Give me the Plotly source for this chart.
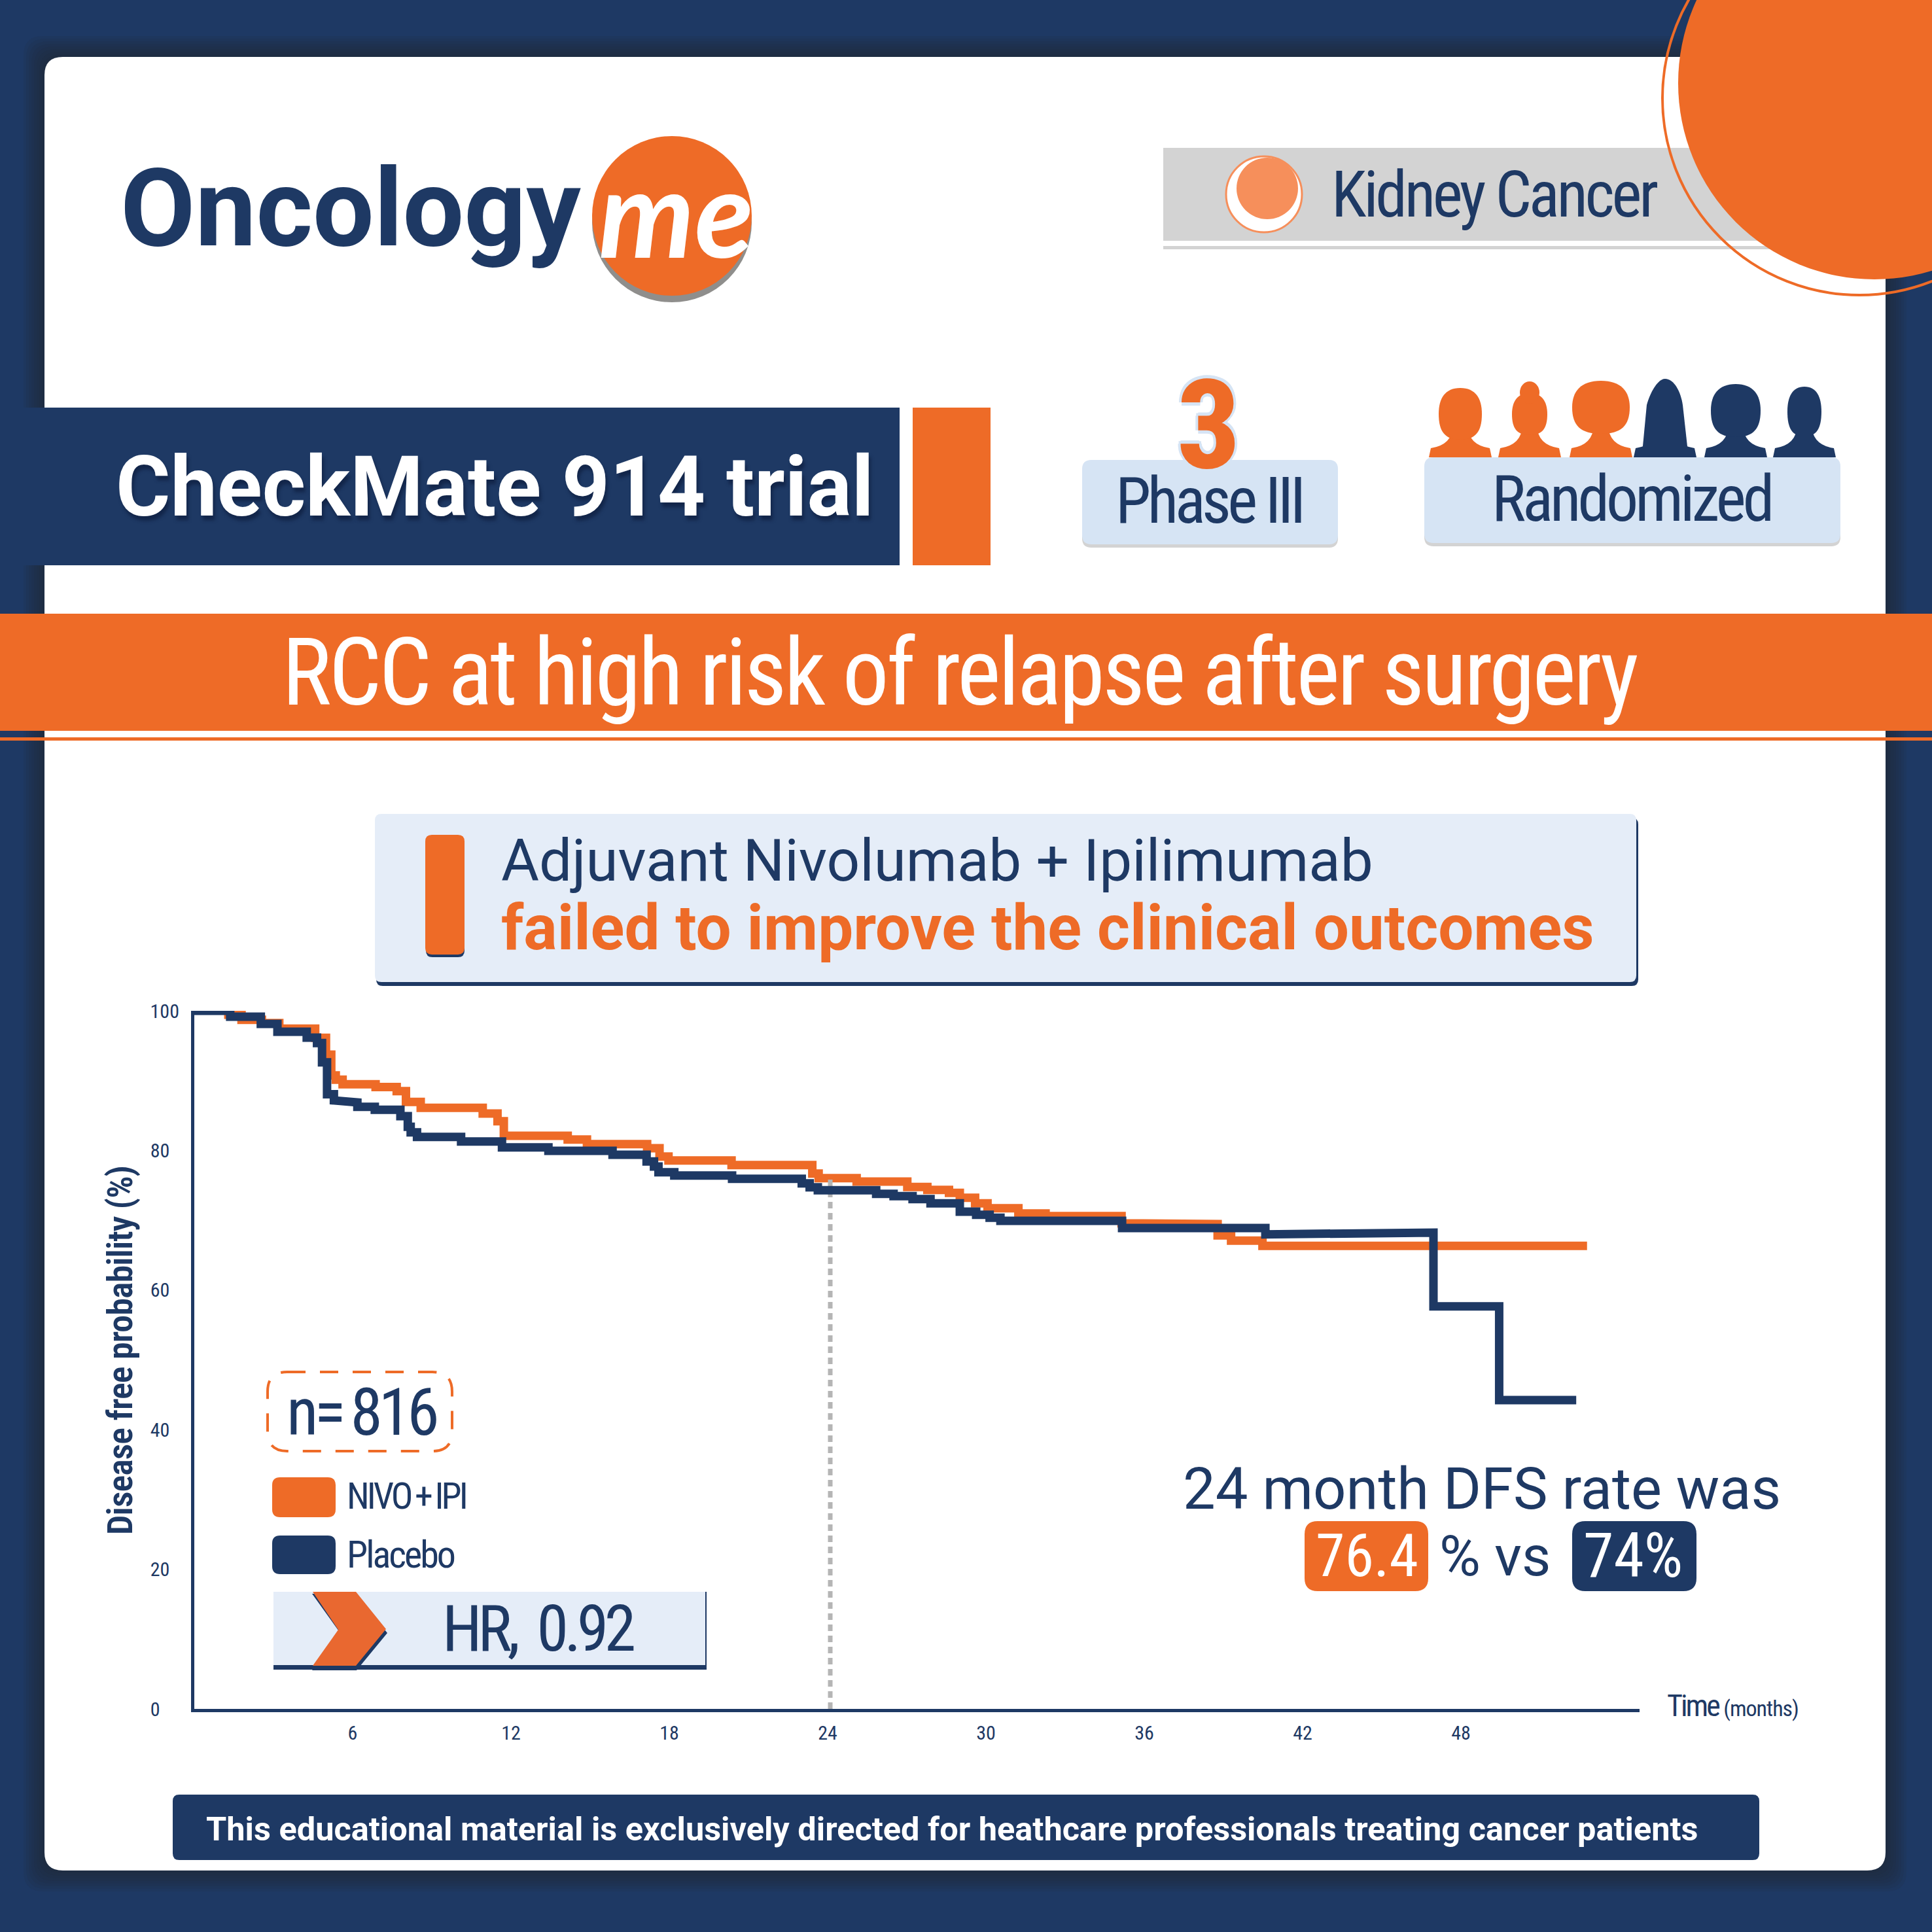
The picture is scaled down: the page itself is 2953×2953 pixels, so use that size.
import plotly.graph_objects as go

# kaplan meier steps (months where the level starts, level in %)
nivo_months = [0, 1.29, 1.79, 2.56, 3.22, 4.58, 4.99, 5.19, 5.36, 5.62, 6.87, 7.67, 8.02, 8.58, 10.93, 11.49,
               11.73, 14.15, 14.88, 17.16, 17.63, 17.97, 20.36, 23.42, 23.66, 25.1, 27.02, 27.78, 28.6, 29.01,
               29.59, 30.06, 31.23, 32.26, 35.14, 38.78, 39.29, 40.48, 52.78]
nivo_dfs = [100.28, 99.44, 98.72, 98.25, 97.44, 96.13, 93.72, 90.75, 90.13, 89.47, 89.09, 88.5, 86.94, 86.1,
            85.29, 84.19, 82.1, 81.57, 80.91, 80.32, 79.13, 78.57, 77.91, 76.69, 76.04, 75.54, 74.76, 74.35,
            73.92, 73.23, 72.42, 71.73, 70.98, 70.6, 69.57, 67.82, 67.07, 66.32, 66.32]
placebo_months = [0, 1.36, 2.52, 3.15, 4.26, 4.65, 4.84, 5.03, 5.29, 5.53, 6.18, 6.84, 7.81, 8.09, 8.2, 8.44,
                  10.11, 11.66, 13.42, 15.85, 17.14, 17.42, 17.59, 18.19, 20.38, 23.02, 23.32, 23.63, 25.84,
                  26.5, 27.22, 27.9, 29.01, 29.63, 30.14, 30.55, 35.16, 40.59, 46.96, 49.45, 52.37]
placebo_dfs = [100.0, 99.16, 98.13, 97.0, 96.16, 95.38, 92.63, 88.04, 87.16, 86.88, 86.25, 85.82, 84.91, 83.38,
               82.6, 81.94, 81.29, 80.44, 79.94, 79.38, 78.41, 77.69, 76.88, 76.41, 75.94, 75.29, 74.73, 74.29,
               73.79, 73.45, 73.04, 72.42, 71.23, 70.79, 70.35, 69.92, 68.88, 67.98, 57.67, 44.24, 44.24]
# the artwork has two runs that drift instead of staying flat: run start month -> level at run end
nivo_drift = {35.14: 69.45}
placebo_drift = {40.59: 68.23}

month_ticks = [6, 12, 18, 24, 30, 36, 42, 48]
dfs_ticks = [0, 20, 40, 60, 80, 100]
dfs_tick_labels = ['0\u2007\u2007', '20\u2007', '40\u2007', '60\u2007', '80\u2007', '100']
landmark_month = [24.1, 24.1]
landmark_dfs = [0, 76.4]

NAVY = '#1e3964'
ORANGE = '#ee6b27'
PALE = '#e5edf8'
BLUE = '#d6e4f4'
GREY = '#d3d3d3'
NARROW = 'Roboto Condensed, Open Sans Condensed, DejaVu Sans Condensed, Roboto'
DIN = 'Roboto'
W = 2953


def X(p):
    return p / W


def Y(p):
    return 1 - p / W


def expand(months, levels, drift):
    xs, ys = [], []
    for i in range(len(months) - 1):
        xs += [months[i], months[i + 1]]
        ys += [levels[i], drift.get(months[i], levels[i])]
    return xs, ys


def pt(x, y):
    return f'{X(x):.5f},{Y(y):.5f}'


def rr_path(x0, y0, x1, y1, r):
    return (f'M{pt(x0 + r, y0)} L{pt(x1 - r, y0)} Q{pt(x1, y0)} {pt(x1, y0 + r)} L{pt(x1, y1 - r)} '
            f'Q{pt(x1, y1)} {pt(x1 - r, y1)} L{pt(x0 + r, y1)} Q{pt(x0, y1)} {pt(x0, y1 - r)} '
            f'L{pt(x0, y0 + r)} Q{pt(x0, y0)} {pt(x0 + r, y0)} Z')


shapes = []


def box(x0, y0, x1, y1, fill, r=0, opacity=1, line=None, layer='below'):
    shapes.append(dict(type='path', xref='paper', yref='paper', path=rr_path(x0, y0, x1, y1, r),
                       fillcolor=fill, opacity=opacity, layer=layer,
                       line=line or dict(width=0)))


def circle(cx, cy, r, fill='rgba(0,0,0,0)', line=None, layer='below'):
    shapes.append(dict(type='circle', xref='paper', yref='paper', x0=X(cx - r), x1=X(cx + r), y0=Y(cy + r),
                       y1=Y(cy - r), fillcolor=fill, layer=layer, line=line or dict(width=0)))


def poly(points, fill):
    shapes.append(dict(type='path', xref='paper', yref='paper', layer='below', fillcolor=fill, line=dict(width=0),
                       path='M' + ' L'.join(pt(a, b) for a, b in points) + ' Z'))


def person(cx, top, bottom, hw, fill, bun=False, long_hair=False):
    # shoulders and neck
    shapes.append(dict(type='path', xref='paper', yref='paper', layer='below', fillcolor=fill, line=dict(width=0),
                       path=f'M{pt(cx - 48, 699)} L{pt(cx - 45, 685)} Q{pt(cx - 12, 680)} {pt(cx - 11, 650)} '
                            f'L{pt(cx + 11, 650)} Q{pt(cx + 12, 680)} {pt(cx + 45, 685)} L{pt(cx + 48, 699)} Z'))
    t = top + 18 if bun else top
    if long_hair:
        path = (f'M{pt(cx, t)} C{pt(cx + 14, t)} {pt(cx + 24, t + 20)} {pt(cx + 27, t + 40)} '
                f'L{pt(cx + hw, bottom)} L{pt(cx - hw, bottom)} L{pt(cx - 28, t + 40)} '
                f'C{pt(cx - 22, t + 18)} {pt(cx - 10, t)} {pt(cx, t)} Z')
    else:
        h = bottom - t
        path = (f'M{pt(cx, t)} C{pt(cx + hw * .7, t)} {pt(cx + hw, t + h * .2)} {pt(cx + hw, t + h * .5)} '
                f'C{pt(cx + hw, t + h * .85)} {pt(cx + hw * .7, bottom)} {pt(cx, bottom)} '
                f'C{pt(cx - hw * .7, bottom)} {pt(cx - hw, t + h * .85)} {pt(cx - hw, t + h * .5)} '
                f'C{pt(cx - hw, t + h * .2)} {pt(cx - hw * .7, t)} {pt(cx, t)} Z')
    shapes.append(dict(type='path', xref='paper', yref='paper', layer='below', fillcolor=fill, line=dict(width=0),
                       path=path))
    if bun:
        shapes.append(dict(type='circle', xref='paper', yref='paper', layer='below', fillcolor=fill,
                           line=dict(width=0), x0=X(cx - 15), x1=X(cx + 15), y0=Y(top + 34), y1=Y(top)))


notes = []


def narrow(s, track=0):
    return f'<span style="font-stretch:75%;letter-spacing:{track}px">{s}</span>'


def text(s, x, y, size, color=NAVY, family=NARROW, weight=400, anchor='left', shadow=None, angle=0, track=0):
    font = dict(size=size, color=color, family=family, weight=weight)
    if shadow:
        font['shadow'] = shadow
    if family == NARROW:
        s = narrow(s, track)
    notes.append(dict(text=s, x=X(x), y=Y(y), xref='paper', yref='paper', xanchor=anchor, yanchor='middle',
                      showarrow=False, font=font, textangle=angle, borderpad=0, borderwidth=0))


# card and its soft edge
for grow in range(32, 0, -4):
    box(68 - grow, 87 - grow, 2882 + grow, 2859 + grow, '#2b2a33', r=30, opacity=.1)
box(68, 87, 2882, 2859, 'white', r=28)

# logo
text('Oncology', 184, 318, 166, family=DIN, weight=700)
circle(1027, 340, 122, fill='#8f8e8c')
circle(1027, 330, 122, fill=ORANGE)
text('<i>me</i>', 1033, 322, 185, color='white', family='Lato', weight=700, anchor='center')

# kidney cancer tag + corner circles
box(1778, 226, 2720, 368, GREY)
box(1778, 376, 2720, 381, GREY)
circle(1932, 297, 58, fill='white', line=dict(color='#f68f5b', width=3))
circle(1937, 288, 47, fill='#f68f5b')
text('Kidney Cancer', 2035, 298, 98, track=-4.3)
circle(2865, 127, 300, fill=ORANGE)
circle(2842, 150, 301, line=dict(color=ORANGE, width=4))

# trial banner
box(0, 623, 1375, 864, NAVY)
box(1395, 623, 1514, 864, ORANGE)
text('CheckMate 914 trial', 177, 744, 127.5, color='white', family=DIN, weight=700, shadow='3px 7px 5px #13264a')

# phase and randomized tiles
box(1654, 708, 2045, 837, GREY, r=14)
box(1654, 703, 2045, 832, BLUE, r=14)
text('Phase III', 1848, 765, 98, anchor='center', track=-5.5)
text('3', 1847, 650, 190, color=ORANGE, weight=800, anchor='center',
     shadow='4px 0 0 #d6e4f4,-4px 0 0 #d6e4f4,0 -5px 0 #d6e4f4,0 5px 0 #d6e4f4,-3px -4px 0 #d6e4f4,3px -4px 0 #d6e4f4')
box(2177, 704, 2813, 835, GREY, r=14)
box(2177, 699, 2813, 830, BLUE, r=14)
text('Randomized', 2493, 762, 98, anchor='center', track=-5)
person(2232, 593, 672, 33, ORANGE)
person(2338, 583, 665, 27, ORANGE, bun=True)
person(2447, 582, 663, 44, ORANGE)
person(2545, 579, 682, 34, NAVY, long_hair=True)
person(2653, 587, 668, 38, NAVY)
person(2758, 591, 667, 26, NAVY)

# headline band
box(0, 938, 2953, 1117, ORANGE)
box(0, 1127, 2953, 1132, ORANGE)
text('RCC at high risk of relapse after surgery', 1467, 1028, 142, color='white', anchor='center', track=-3.8)

# conclusion box
box(575, 1250, 2504, 1507, NAVY, r=10)
box(573, 1244, 2501, 1501, PALE, r=10)
box(651, 1280, 710, 1463, NAVY, r=10)
box(650, 1276, 710, 1459, ORANGE, r=10)
text('Adjuvant Nivolumab + Ipilimumab', 766, 1315, 89, family=DIN)
text('failed to improve the clinical outcomes', 766, 1418, 96, color=ORANGE, family=DIN, weight=700)

# n and legend
shapes.append(dict(type='path', xref='paper', yref='paper', layer='below', path=rr_path(409, 2097, 691, 2218, 30),
                   line=dict(color=ORANGE, width=4, dash='28px,22px'), fillcolor='rgba(0,0,0,0)'))
text('n=\u2009816', 552, 2158, 100, anchor='center', track=-6)
box(416, 2258, 513, 2319, ORANGE, r=12)
box(416, 2347, 513, 2406, NAVY, r=12)
text('NIVO\u2009+\u2009IPI', 530, 2287, 56, track=-4)
text('Placebo', 530, 2376, 58, track=-3)

# hazard ratio tile
box(418, 2433, 1080, 2552, NAVY)
box(418, 2433, 1078, 2545, PALE)
poly([(477, 2436), (545, 2436), (592, 2496), (545, 2553), (477, 2553), (520, 2496)], NAVY)
poly([(478, 2433), (544, 2433), (590, 2490), (544, 2546), (478, 2546), (517, 2491)], '#e96830')
text('HR,  0.92', 823, 2489, 98, anchor='center', track=-6.5)

# 24 month callout
text('24 month DFS rate was', 1808, 2276, 88.5, family=DIN)
box(1994, 2325, 2183, 2432, ORANGE, r=20)
box(2403, 2325, 2593, 2432, NAVY, r=20)
text('76.4', 2089, 2378, 90, color='white', anchor='center')
text('% vs', 2285, 2378, 86, family=DIN, anchor='center')
text('74%', 2496, 2378, 94, color='white', anchor='center')

# axis end label
text('Time <span style="font-size:34px;letter-spacing:-1px">(months)</span>', 2548, 2607, 46, track=-3)

# footer
box(264, 2743, 2689, 2843, NAVY, r=10)
text('This educational material is exclusively directed for heathcare professionals treating cancer patients',
     1455, 2795, 50.5, color='white', family=DIN, weight=700, anchor='center')

text('Disease free probability (%)', 183, 2064, 54, weight=600, angle=-90, anchor='center', track=-1)

fig = go.Figure()
nx, ny = expand(nivo_months, nivo_dfs, nivo_drift)
px_, py_ = expand(placebo_months, placebo_dfs, placebo_drift)
fig.add_trace(go.Scatter(x=nx, y=ny, mode='lines', name='NIVO + IPI', cliponaxis=False,
                         line=dict(color=ORANGE, width=13)))
fig.add_trace(go.Scatter(x=landmark_month, y=landmark_dfs, mode='lines', name='24 months', cliponaxis=False,
                         line=dict(color='#b5b5b5', width=7, dash='10px,7px')))
fig.add_trace(go.Scatter(x=px_, y=py_, mode='lines', name='Placebo', cliponaxis=False,
                         line=dict(color=NAVY, width=13)))

fig.update_layout(
    width=W, height=W, autosize=False,
    margin=dict(l=0, r=0, t=0, b=0, autoexpand=False),
    paper_bgcolor=NAVY, plot_bgcolor='rgba(0,0,0,0)',
    showlegend=False,
    shapes=shapes, annotations=notes,
    xaxis=dict(domain=[X(297), X(2506)], range=[0, 54.77], tickvals=month_ticks,
               ticktext=[narrow(str(m)) for m in month_ticks], showgrid=False, zeroline=False,
               showline=True, linecolor=NAVY, linewidth=5, ticks='outside', ticklen=6, tickcolor='rgba(0,0,0,0)',
               tickfont=dict(family=NARROW, size=30, color=NAVY), tickangle=0, automargin=False),
    yaxis=dict(domain=[Y(2612), Y(1545)], range=[0, 100], tickvals=dfs_ticks,
               ticktext=[narrow(t) for t in dfs_tick_labels],
               showgrid=False, zeroline=False, showline=True, linecolor=NAVY, linewidth=5, ticks='outside',
               ticklen=12, tickcolor='rgba(0,0,0,0)', tickfont=dict(family=NARROW, size=30, color=NAVY),
               automargin=False),
)

fig.write_html('out.html', config=dict(displayModeBar=False), post_script="document.body.style.margin='0';")
